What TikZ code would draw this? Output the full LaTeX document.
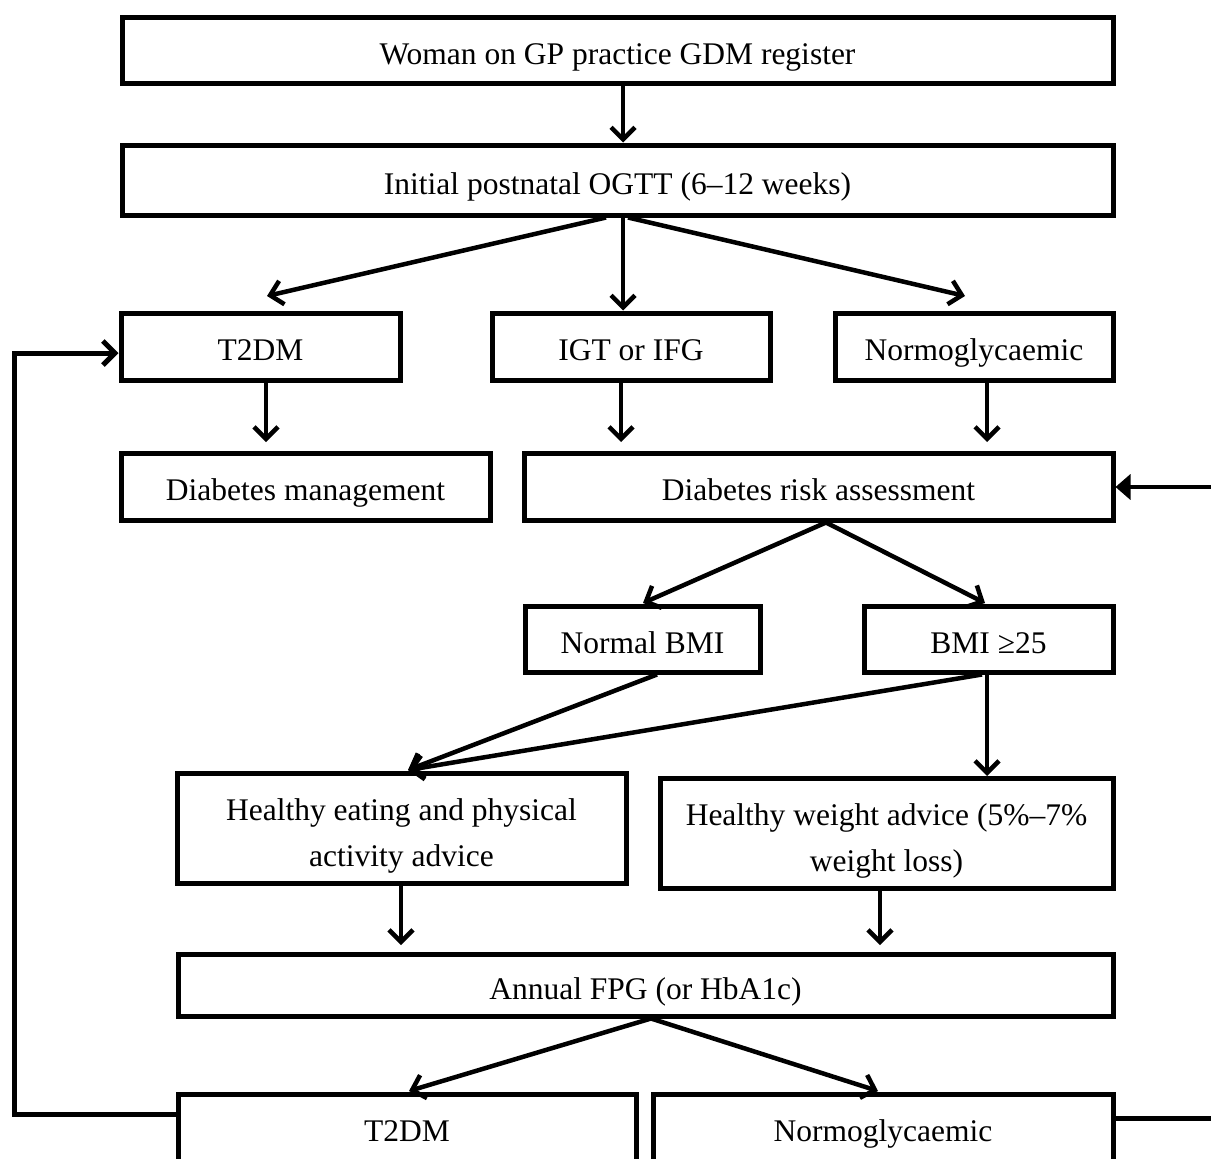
\documentclass[tikz,border=0pt]{standalone}
\usepackage{fontspec}
\setmainfont{Liberation Serif}
\usetikzlibrary{arrows.meta,calc}
\begin{document}
\begin{tikzpicture}[x=1pt,y=-1pt,
  box/.style={draw, line width=5pt, inner sep=0pt, align=center, font=\fontsize{31.5}{46}\selectfont},
  one/.style={box, text height=28.5pt, text depth=0pt},
  arr/.style={line width=4.5pt, -{Straight Barb[length=12pt,width=24pt]}},
  farr/.style={line width=4.5pt, -{Triangle[length=15pt,width=25pt]}},
  loop/.style={line width=5pt}]
\useasboundingbox (0,0) rectangle (1211,1159);
\clip (0,0) rectangle (1211,1159);
\fill[white] (0,0) rectangle (1211,1159);
% boxes
\node[one, minimum width=991pt, minimum height=66pt] (woman) at (617.5,50) {Woman on GP practice GDM register};
\node[one, minimum width=991pt, minimum height=70pt] (ogtt) at (617.5,180) {Initial postnatal OGTT (6–12 weeks)};
\node[one, minimum width=279pt, minimum height=67pt] (t2dm) at (260.5,346.5) {T2DM};
\node[one, minimum width=278pt, minimum height=67pt] (igt) at (631,346.5) {IGT or IFG};
\node[one, minimum width=278pt, minimum height=67pt] (normo) at (974,346.5) {Normoglycaemic};
\node[one, minimum width=369pt, minimum height=67pt] (dman) at (305.5,486.5) {Diabetes management};
\node[one, minimum width=589pt, minimum height=67pt] (dra) at (818.5,486.5) {Diabetes risk assessment};
\node[one, minimum width=235pt, minimum height=66pt] (nbmi) at (642.5,639) {Normal BMI};
\node[one, minimum width=249pt, minimum height=66pt] (bmi) at (988.5,639) {BMI ≥25};
\node[box, minimum width=449pt, minimum height=110pt] (heat) at (401.5,828) {\rule{0pt}{37.5pt}Healthy eating and physical\\activity advice};
\node[box, minimum width=453pt, minimum height=110pt] (hweight) at (886.5,833) {\rule{0pt}{37.5pt}Healthy weight advice (5\%–7\%\\weight loss)};
\node[one, minimum width=935pt, minimum height=62pt] (fpg) at (645.5,985) {Annual FPG (or HbA1c)};
\node[one, minimum width=458pt, minimum height=67pt] (bt2dm) at (407,1127.5) {T2DM};
\node[one, minimum width=460pt, minimum height=67pt] (bnormo) at (883,1127.5) {Normoglycaemic};
% free ends
\coordinate (oL) at (267,296);
\coordinate (oR) at (965,296);
\coordinate (tA) at (266,442);
\coordinate (tB) at (621,442);
\coordinate (tC) at (987,442);
\coordinate (dL) at (643,603);
\coordinate (dR) at (985,603);
\coordinate (hE) at (408,770);
\coordinate (hW) at (987,776);
\coordinate (fA) at (401,945);
\coordinate (fB) at (880,945);
\coordinate (bL) at (409,1091);
\coordinate (bR) at (878,1091);
\coordinate (L1) at (14,1114);
\coordinate (L2) at (14,353);
\coordinate (R1) at (1211,1118);
\coordinate (R2) at (1211,487);
% connectors
\draw[arr] ([xshift=5.5pt]woman.south) -- ([xshift=5.5pt]ogtt.north);
\draw[arr] ([xshift=-11.5pt]ogtt.south) -- (oL);
\draw[arr] ([xshift=5.5pt]ogtt.south) -- ([xshift=5.5pt]ogtt.south |- igt.north);
\draw[arr] ([xshift=10.5pt]ogtt.south) -- (oR);
\draw[arr] (tA |- t2dm.south) -- (tA);
\draw[arr] (tB |- igt.south) -- (tB);
\draw[arr] (tC |- normo.south) -- (tC);
\draw[farr] (R2) -- (R2 -| dra.east);
\draw[arr] ([xshift=7.5pt]dra.south) -- (dL);
\draw[arr] ([xshift=7.5pt]dra.south) -- (dR);
\draw[arr] ([xshift=14.5pt]nbmi.south) -- (hE);
\draw[arr] ([xshift=-6.5pt]bmi.south) -- (hE);
\draw[arr] (hW |- bmi.south) -- (hW);
\draw[arr] (fA |- heat.south) -- (fA);
\draw[arr] (fB |- hweight.south) -- (fB);
\draw[arr] ([xshift=5.5pt]fpg.south) -- (bL);
\draw[arr] ([xshift=5.5pt]fpg.south) -- (bR);
\draw[loop, -{Straight Barb[length=12pt,width=24pt]}] (L1 -| bt2dm.west) -- (L1) -- (L2) -- (L2 -| t2dm.west);
\draw[loop] (R1 -| bnormo.east) -- (R1);
\end{tikzpicture}
\end{document}
